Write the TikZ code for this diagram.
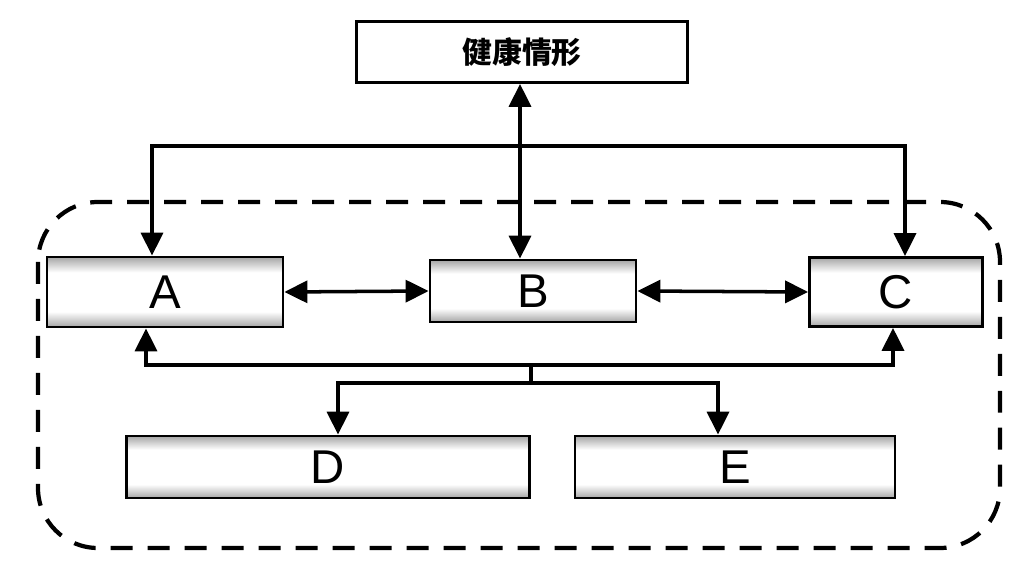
\documentclass[tikz,border=0pt]{standalone}
\usepackage{fontspec}
\setmainfont{Liberation Sans}
\newfontfamily\cjk{Noto Sans CJK SC}
\usetikzlibrary{arrows.meta}

\pgfdeclareverticalshading{grain}{100bp}{
    color(0bp)=(gray!70); color(25bp)=(gray!70); color(36bp)=(white);
    color(64bp)=(white); color(75bp)=(gray!70); color(100bp)=(gray!70)}

\tikzset{
    unit/.style={draw, line width=1.6pt, shading=grain, inner sep=0pt,
        font=\fontsize{27}{30}\selectfont},
    head/.style={draw, line width=1.6pt, fill=white, inner sep=0pt,
        minimum width=6.62cm, minimum height=1.22cm, font=\cjk\bfseries\fontsize{17}{20}\selectfont},
    link/.style={line width=2pt}
}

\begin{document}
\begin{tikzpicture}[x=0.02cm, y=-0.02cm, >={Stealth[length=4.6mm,width=4.4mm,inset=0pt]}]
    \useasboundingbox (0,0) rectangle (1024,563);
    % 外框
    \draw[line width=2.4pt, dash pattern=on 0.44cm off 0.3cm, rounded corners=1.2cm]
        (38,202) rectangle (1000,548);
    % 方块
    \node[head] (health) at (522,52) {健康情形};
    \node[unit, minimum width=4.72cm, minimum height=1.4cm] (A) at (165,292) {A};
    \node[unit, minimum width=4.12cm, minimum height=1.24cm] (B) at (533,291) {B};
    \node[unit, minimum width=3.46cm, minimum height=1.38cm] (C) at (896,292) {C};
    \node[unit, minimum width=8.06cm, minimum height=1.24cm] (D) at (328,467) {D};
    \node[unit, minimum width=6.4cm, minimum height=1.24cm] (E) at (735,467) {E};
    % 上方连线
    \coordinate (topbus) at (520,146);
    \draw[link, <->] (health.south -| topbus) -- (B.north -| topbus);
    \draw[link, ->] (topbus) -| ([xshift=-0.26cm]A.north);
    \draw[link, ->] (topbus) -| ([xshift=0.18cm]C.north);
    \draw[link, <->] (A.east) -- (B.west);
    \draw[link, <->] (B.east) -- (C.west);
    % 下方连线
    \coordinate (lowbus) at (531,365);
    \coordinate (split) at (531,383);
    \draw[link, ->] (lowbus) -| ([xshift=-0.38cm]A.south);
    \draw[link, ->] (lowbus) -| ([xshift=-0.06cm]C.south);
    \draw[link] (lowbus) -- (split);
    \draw[link, ->] (split) -| ([xshift=0.2cm]D.north);
    \draw[link, ->] (split) -| ([xshift=-0.34cm]E.north);
\end{tikzpicture}
\end{document}
